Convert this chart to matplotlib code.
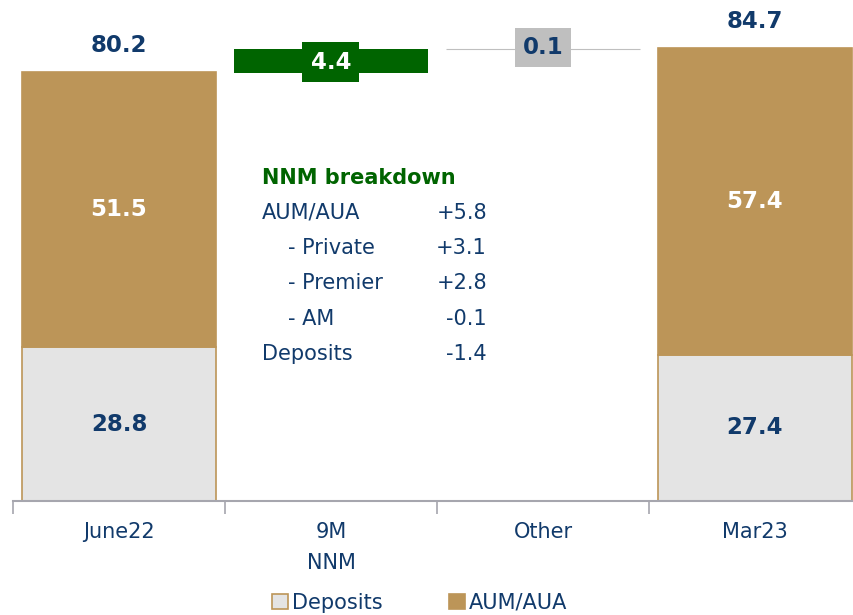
import matplotlib
matplotlib.use("Agg")
import matplotlib.pyplot as plt
import numpy as np

########### data ###########
categories = ["June22", "9M\nNNM", "Other", "Mar23"]
deposits = [28.8, 27.4]      # June22, Mar23
aum_aua = [51.5, 57.4]
totals = [80.2, 84.7]
nnm = 4.4
other = 0.1

breakdown_labels = ["AUM/AUA", "- Private", "- Premier", "- AM", "Deposits"]
breakdown_indent = [0, 1, 1, 1, 0]
breakdown_values = ["+5.8", "+3.1", "+2.8", "-0.1", "-1.4"]
############################

navy = "#113A6B"
tan = "#BC9558"
light = "#E4E4E4"
green = "#006400"
grey_box = "#BFBFBF"

plt.rcParams['font.family'] = ['DejaVu Sans']

W, H = 854, 615
fig = plt.figure(figsize=(W / 100, H / 100), dpi=100)

# axes placed in pixels: x axis line at y=501, 5.34 px per unit
px_per_unit = 5.34
ymax = 90
ax_h = ymax * px_per_unit
ax = fig.add_axes([13 / W, (H - 501) / H, 848 / W, ax_h / H])

x = np.arange(len(categories))
bw = 0.915

# stacked bars at the two ends
end_x = [x[0], x[3]]
ax.bar(end_x, deposits, bw, color=light, edgecolor=tan, linewidth=1.2, label="Deposits")
ax.bar(end_x, aum_aua, bw, bottom=deposits, color=tan, edgecolor=tan, linewidth=1.2, label="AUM/AUA")

# floating bars
ax.bar(x[1], nnm, bw, bottom=totals[0], color=green, linewidth=0)
ax.bar(x[2], other, bw, bottom=totals[0] + nnm, color=grey_box, edgecolor=grey_box, linewidth=0.8)

# labels
for xi, d, a, t in zip(end_x, deposits, aum_aua, totals):
    ax.text(xi, d / 2, f"{d}", ha="center", va="center", color=navy, fontsize=16.5, fontweight="bold")
    ax.text(xi, d + a / 2, f"{a}", ha="center", va="center", color="white", fontsize=16.5, fontweight="bold")
    ax.text(xi, t + 3.0, f"{t}", ha="center", va="bottom", color=navy, fontsize=16.5, fontweight="bold")

ax.text(x[1], totals[0] + nnm / 2 - 0.2, f"{nnm}", ha="center", va="center", color="white",
        fontsize=16.5, fontweight="bold",
        bbox=dict(boxstyle="square,pad=0.36", facecolor=green, edgecolor="none"))
ax.text(x[2], totals[0] + nnm + 0.3, f"{other}", ha="center", va="center", color=navy,
        fontsize=16.5, fontweight="bold",
        bbox=dict(boxstyle="square,pad=0.34", facecolor=grey_box, edgecolor="none"))

# axis styling
ax.set_xlim(-0.5, 3.5)
ax.set_ylim(0, ymax)
for s in ["left", "top", "right"]:
    ax.spines[s].set_visible(False)
ax.spines["bottom"].set_color("#A6A6AE")
ax.spines["bottom"].set_linewidth(1.5)
ax.set_yticks([])
ax.set_xticks(x)
ax.set_xticklabels(categories, fontsize=15, color=navy, linespacing=1.7)
ax.tick_params(axis="x", which="major", length=0, pad=15)
ax.set_xticks(np.arange(-0.5, 3.6, 1.0), minor=True)
ax.tick_params(axis="x", which="minor", length=9, width=1.2, color="#A6A6AE")
ax.patch.set_visible(False)

# NNM breakdown box
fig.text(262 / W, 1 - 178 / H, "NNM breakdown", ha="left", va="center", color=green,
         fontsize=15, fontweight="bold")
row_y = [213, 248, 283, 319, 354]
for lab, ind, val, ry in zip(breakdown_labels, breakdown_indent, breakdown_values, row_y):
    fig.text((262 + 26 * ind) / W, 1 - ry / H, lab, ha="left", va="center", color=navy, fontsize=15)
    fig.text(487 / W, 1 - ry / H, val, ha="right", va="center", color=navy, fontsize=15)

# legend
fig.legend(loc="center", bbox_to_anchor=(420 / W, 1 - 603 / H), ncol=2, frameon=False,
           fontsize=15, labelcolor=navy, handlelength=0.75, handleheight=0.75,
           handletextpad=0.2, columnspacing=3.2)

fig.savefig("out.png", dpi=100)
